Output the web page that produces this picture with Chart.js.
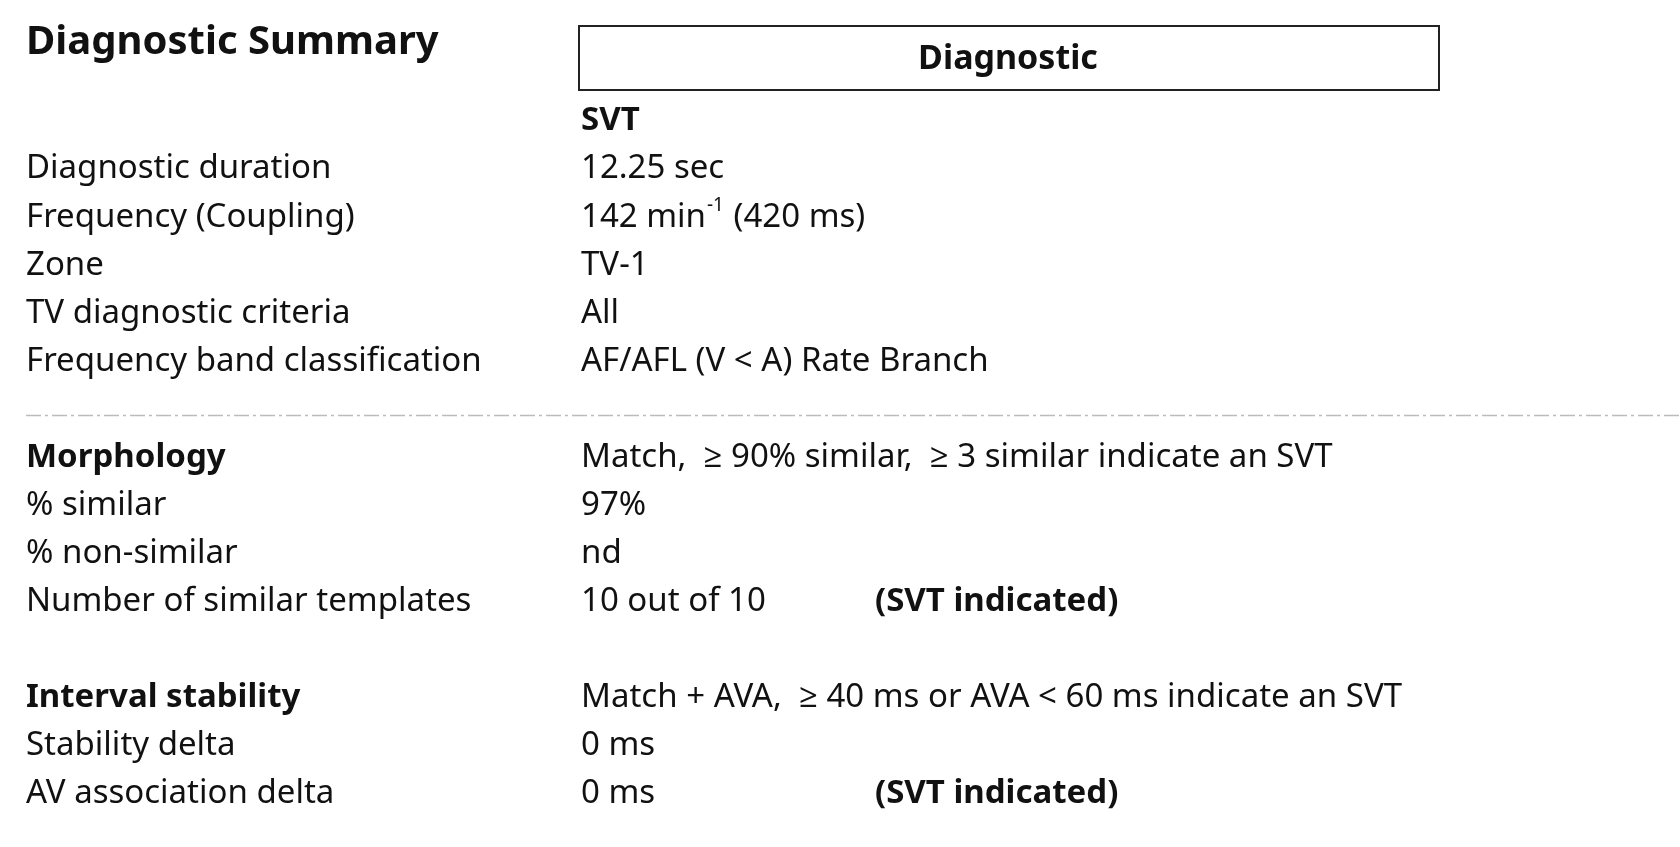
<!DOCTYPE html>
<html lang="en">
<head>
<meta charset="utf-8">
<script src="https://cdn.jsdelivr.net/npm/chart.js@4"></script>
<style>
  html, body { margin: 0; padding: 0; background: #fff; }
  #wrap { width: 1680px; height: 847px; }
</style>
</head>
<body>
<div id="wrap"><canvas id="myChart" width="1680" height="847"></canvas></div>
<script>
// row contents, top to bottom ("" = empty row)
var rowLabels = ["", "Diagnostic duration", "Frequency (Coupling)", "Zone", "TV diagnostic criteria",
  "Frequency band classification", "", "Morphology", "% similar", "% non-similar",
  "Number of similar templates", "", "Interval stability", "Stability delta", "AV association delta"];
var rowValues = ["SVT", "12.25 sec", "142 min^-1 (420 ms)", "TV-1", "All",
  "AF/AFL (V < A) Rate Branch", "", "Match,  \u2265 90% similar,  \u2265 3 similar indicate an SVT", "97%", "nd",
  "10 out of 10", "", "Match + AVA,  \u2265 40 ms or AVA < 60 ms indicate an SVT", "0 ms", "0 ms"];
var rowNotes = ["", "", "", "", "", "", "", "", "", "", "(SVT indicated)", "", "", "", "(SVT indicated)"];
var headingRows = [7, 12];
var dividerRow = 6;
var title = "Diagnostic Summary";
var columnHeader = "Diagnostic";

var FONT = '"Noto Sans", "Open Sans", sans-serif';

var tablePlugin = {
  id: 'tableText',
  afterDraw: function (chart) {
    var ctx = chart.ctx;
    var y = chart.scales.y;
    ctx.save();
    ctx.fillStyle = '#111';
    ctx.textBaseline = 'middle';
    ctx.font = 'bold 40px ' + FONT;
    ctx.fillText(title, 26, 43);
    // header box
    ctx.strokeStyle = '#222';
    ctx.lineWidth = 2;
    ctx.strokeRect(579, 26, 860, 64);
    ctx.font = 'bold 34px ' + FONT;
    ctx.textAlign = 'center';
    ctx.fillText(columnHeader, 1008, 59);
    ctx.textAlign = 'left';

    for (var i = 0; i < rowLabels.length; i++) {
      var py = y.getPixelForValue(i);
      var head = headingRows.indexOf(i) >= 0;
      ctx.font = (head ? 'bold ' : '') + '33px ' + FONT;
      ctx.fillText(rowLabels[i], 26, py);
      var v = rowValues[i];
      ctx.font = (i === 0 ? 'bold ' : '') + '33px ' + FONT;
      if (v.indexOf('^') >= 0) {
        var m = v.match(/^(.*?)\^(\S+)(.*)$/);
        ctx.fillText(m[1], 581, py);
        var x = 581 + ctx.measureText(m[1]).width + 1;
        ctx.font = '19px ' + FONT;
        ctx.fillText(m[2], x, py - 12);
        x += ctx.measureText(m[2]).width + 1;
        ctx.font = '33px ' + FONT;
        ctx.fillText(m[3], x, py);
      } else {
        ctx.fillText(v, 581, py);
      }
      if (rowNotes[i]) {
        ctx.font = 'bold 33px ' + FONT;
        ctx.fillText(rowNotes[i], 875, py);
      }
    }
    // dashed divider
    var dy = y.getPixelForValue(dividerRow) + 6;
    ctx.strokeStyle = '#bbb';
    ctx.lineWidth = 1.5;
    ctx.setLineDash([15, 4, 3, 4]);
    ctx.beginPath();
    ctx.moveTo(26, dy);
    ctx.lineTo(1680, dy);
    ctx.stroke();
    ctx.restore();
  }
};

var ctx = document.getElementById('myChart').getContext('2d');
var myChart = new Chart(ctx, {
  type: 'scatter',
  data: {
    datasets: [{
      data: rowLabels.map(function (l, i) { return { x: 0, y: i }; }),
      pointRadius: 0
    }]
  },
  options: {
    responsive: false,
    animation: false,
    layout: { padding: { top: 121, bottom: 53, left: 0, right: 0 } },
    plugins: { legend: { display: false }, tooltip: { enabled: false } },
    scales: {
      x: { display: false, min: 0, max: 1 },
      y: { display: false, reverse: true, min: 0, max: rowLabels.length - 1 }
    }
  },
  plugins: [tablePlugin]
});
</script>
</body>
</html>
